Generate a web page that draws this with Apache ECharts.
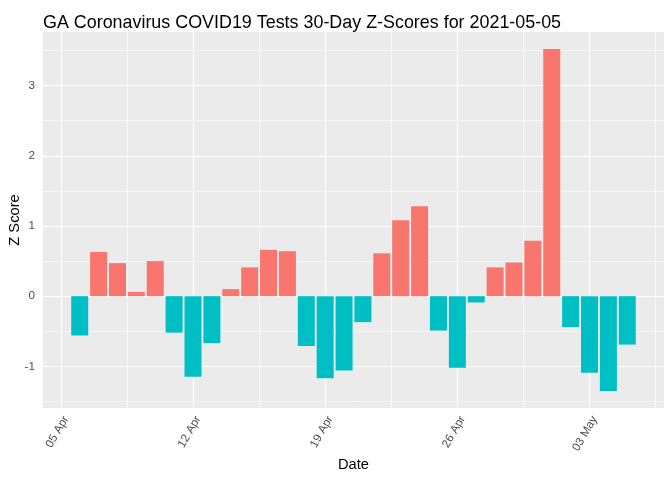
<!DOCTYPE html>
<html><head><meta charset="utf-8">
<script src="https://cdn.jsdelivr.net/npm/echarts@6/dist/echarts.min.js"></script>
<style>html,body{margin:0;padding:0;background:#fff}#c{width:672px;height:480px}</style>
</head><body><div id="c"></div>
<script>
const titleText = 'GA Coronavirus COVID19 Tests 30-Day Z-Scores for 2021-05-05';
const dates = ['2021-04-06','2021-04-07','2021-04-08','2021-04-09','2021-04-10','2021-04-11','2021-04-12','2021-04-13','2021-04-14','2021-04-15',
  '2021-04-16','2021-04-17','2021-04-18','2021-04-19','2021-04-20','2021-04-21','2021-04-22','2021-04-23','2021-04-24','2021-04-25',
  '2021-04-26','2021-04-27','2021-04-28','2021-04-29','2021-04-30','2021-05-01','2021-05-02','2021-05-03','2021-05-04','2021-05-05'];
const zScores = [-0.56,0.63,0.47,0.06,0.50,-0.52,-1.15,-0.67,0.10,0.41,
  0.66,0.64,-0.71,-1.17,-1.06,-0.37,0.61,1.08,1.28,-0.49,
  -1.02,-0.09,0.41,0.48,0.79,3.52,-0.44,-1.09,-1.35,-0.69];
const xTickDates = ['2021-04-05','2021-04-12','2021-04-19','2021-04-26','2021-05-03'];
const xTickLabels = ['05 Apr','12 Apr','19 Apr','26 Apr','03 May'];
const yTicks = [-1,0,1,2,3];
const yMinorTicks = [-1.5,-0.5,0.5,1.5,2.5,3.5];

const DAY = 864e5;
const origin = Date.parse(xTickDates[0]);
const dayOf = d => (Date.parse(d) - origin) / DAY;
const xs = dates.map(dayOf);
const xMajor = xTickDates.map(dayOf);
const xMinor = xMajor.map(v => v + 3.5);

// ggplot-like expansion
const xlo = Math.min(...xs) - 0.45, xhi = Math.max(...xs) + 0.45;
const xpad = (xhi - xlo) * 0.05;
const ylo = Math.min(0, ...zScores), yhi = Math.max(0, ...zScores);
const ypad = (yhi - ylo) * 0.05;

const POS = '#F8766D', NEG = '#00BFC4';
const labelMap = {};
xMajor.forEach((v, i) => labelMap[v] = xTickLabels[i]);

const gridLines = [];
xMinor.forEach(v => gridLines.push({xAxis: v, lineStyle: {width: 0.6}}));
yMinorTicks.forEach(v => gridLines.push({yAxis: v, lineStyle: {width: 0.6}}));
xMajor.forEach(v => gridLines.push({xAxis: v, lineStyle: {width: 1.2}}));
yTicks.forEach(v => gridLines.push({yAxis: v, lineStyle: {width: 1.2}}));

const font = 'Liberation Sans, Arial, sans-serif';
const chart = echarts.init(document.getElementById('c'), null, {renderer: 'canvas'});
chart.setOption({
  animation: false,
  backgroundColor: '#ffffff',
  textStyle: {fontFamily: font},
  title: {text: titleText, left: 38, top: 9,
    textStyle: {fontFamily: font, fontSize: 17.9, fontWeight: 'normal', color: '#000000'}},
  grid: {left: 43, right: 8, top: 32, bottom: 72, show: true, backgroundColor: '#EBEBEB', borderWidth: 0,
    containLabel: false, outerBoundsMode: 'none'},
  xAxis: {
    type: 'value', min: xlo - xpad, max: xhi + xpad,
    name: 'Date', nameLocation: 'middle', nameGap: 49, nameMoveOverlap: false,
    nameTextStyle: {fontFamily: font, fontSize: 14.7, color: '#000000'},
    axisLine: {show: false},
    splitLine: {show: false},
    axisTick: {show: true, length: 4, customValues: xMajor, lineStyle: {color: '#333333', width: 1}},
    axisLabel: {customValues: xMajor, rotate: 60, margin: 6, verticalAlign: 'top', fontFamily: font, fontSize: 11.7, color: '#4D4D4D',
      formatter: v => labelMap[v] || ''}
  },
  yAxis: {
    type: 'value', min: ylo - ypad, max: yhi + ypad,
    name: 'Z Score', nameLocation: 'middle', nameGap: 21, nameRotate: 90, nameMoveOverlap: false,
    nameTextStyle: {fontFamily: font, fontSize: 14.7, color: '#000000'},
    axisLine: {show: false},
    splitLine: {show: false},
    axisTick: {show: true, length: 4, customValues: yTicks, lineStyle: {color: '#333333', width: 1}},
    axisLabel: {customValues: yTicks, margin: 8, fontFamily: font, fontSize: 11.7, color: '#4D4D4D',
      formatter: v => String(v)}
  },
  series: [
    {type: 'line', data: [], z: 1, silent: true,
      markLine: {silent: true, symbol: 'none', z: 1, animation: false, label: {show: false},
        lineStyle: {color: '#FFFFFF', type: 'solid'}, emphasis: {disabled: true}, data: gridLines}},
    {type: 'bar', z: 3, barWidth: 17, silent: true,
      data: xs.map((x, i) => ({value: [x, zScores[i]], itemStyle: {color: zScores[i] >= 0 ? POS : NEG}}))}
  ]
});
</script></body></html>
